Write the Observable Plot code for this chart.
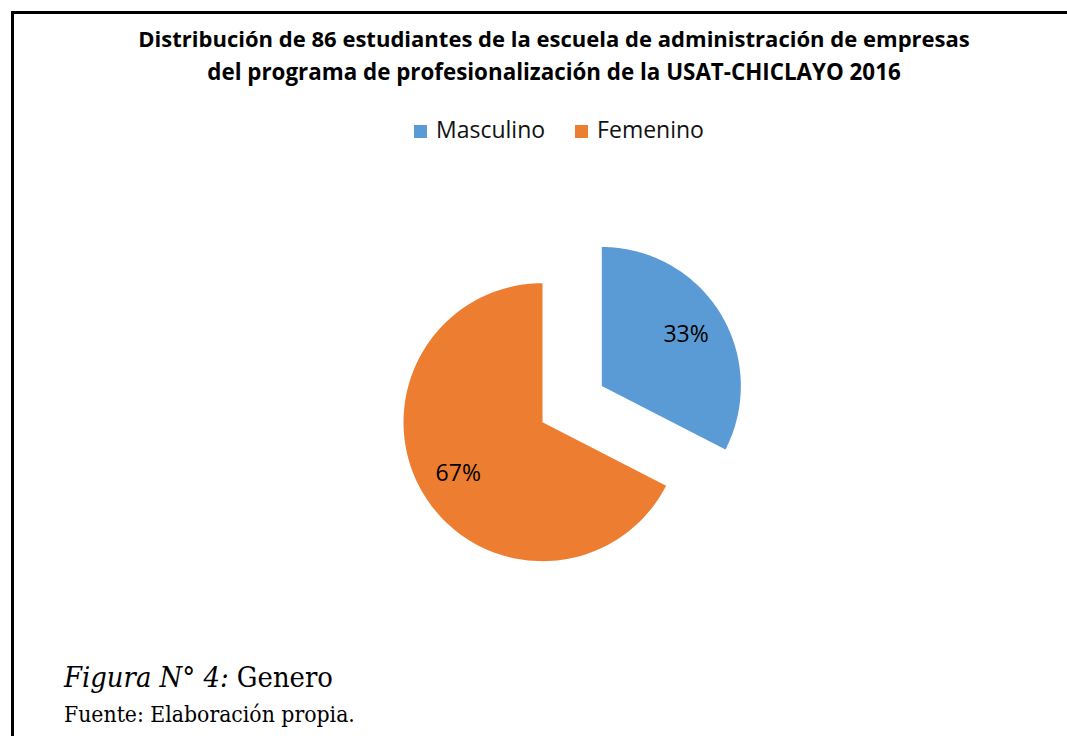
<!DOCTYPE html>
<html>
<head>
<meta charset="utf-8">
<script src="https://cdn.jsdelivr.net/npm/d3@7"></script>
<script src="https://cdn.jsdelivr.net/npm/@observablehq/plot@0.6"></script>
<style>
  html, body { margin: 0; padding: 0; background: #fff; }
  body { width: 1067px; height: 736px; position: relative; overflow: hidden; }
  #frame { position: absolute; left: 11px; top: 11px; width: 1200px; height: 800px; border: 3px solid #000; box-sizing: border-box; }
  #chart { position: absolute; left: 0; top: 0; }
  .t { position: absolute; white-space: nowrap; line-height: 1; }
  #title1, #title2 { font-family: "Open Sans", sans-serif; font-weight: 700; color: #000; }
  #legend { position: absolute; left: 414px; top: 114px; font-family: "Open Sans", sans-serif; font-size: 23px; color: #111; white-space: nowrap; line-height: 30px; }
  #legend span.sw { display: inline-block; width: 13px; height: 13px; vertical-align: 0px; }
  #legend span.lab { margin-left: 9px; margin-right: 30px; }
  #cap1, #cap2 { font-family: "DejaVu Serif", serif; font-stretch: condensed; color: #000; }
</style>
</head>
<body>
<div id="frame"></div>
<div id="chart"></div>
<div class="t" id="title1"></div>
<div class="t" id="title2"></div>
<div id="legend"></div>
<div class="t" id="cap1"></div>
<div class="t" id="cap2"></div>
<script>
const tituloLineas = [
  "Distribución de 86 estudiantes de la escuela de administración de empresas",
  "del programa de profesionalización de la USAT-CHICLAYO 2016"
];
const genero = ["Masculino", "Femenino"];
const estudiantes = [28, 58];
const colores = ["#5B9BD5", "#ED7D31"];
const figuraEtiqueta = "Figura N° 4:";
const figuraNombre = "Genero";
const fuente = "Fuente: Elaboración propia.";

const W = 1067, H = 736;
const R = 139;              // pie radius in px
const cx = 542, cy = 421.7; // pie centre in px
const total = d3.sum(estudiantes);

// pie angles (clockwise from 12 o'clock)
const arcs = d3.pie().sort(null)(estudiantes);
const slices = arcs.map((a, i) => {
  const mid = (a.startAngle + a.endAngle) / 2;
  const off = i === 0 ? 0.5 : 0; // exploded first slice
  const ox = off * Math.sin(mid), oy = off * Math.cos(mid);
  const pts = [{x: ox, y: oy}];
  const n = 120;
  for (let k = 0; k <= n; k++) {
    const t = a.startAngle + (a.endAngle - a.startAngle) * k / n;
    pts.push({x: ox + Math.sin(t), y: oy + Math.cos(t)});
  }
  pts.push({x: ox, y: oy});
  const lr = 0.71;
  return {
    name: genero[i],
    color: colores[i],
    pts,
    label: {x: ox + lr * Math.sin(mid), y: oy + lr * Math.cos(mid),
            text: Math.round(100 * estudiantes[i] / total) + "%"}
  };
});

const plot = Plot.plot({
  width: W, height: H,
  margin: 0,
  x: {domain: [-cx / R, (W - cx) / R], axis: null},
  y: {domain: [-(H - cy) / R, cy / R], axis: null},
  marks: [
    ...slices.map(s => Plot.line(s.pts, {x: "x", y: "y", fill: s.color, stroke: "none", curve: "linear"})),
    Plot.text(slices.map(s => s.label), {x: "x", y: "y", text: "text", fontSize: 23, fontFamily: "Open Sans", fill: "#000", textAnchor: "middle", dy: 0})
  ],
  style: {background: "transparent", overflow: "visible"}
});
document.getElementById("chart").append(plot);

// texts
const t1 = document.getElementById("title1"), t2 = document.getElementById("title2");
t1.textContent = tituloLineas[0];
t2.textContent = tituloLineas[1];
const cap1 = document.getElementById("cap1");
cap1.innerHTML = "<i>" + figuraEtiqueta + "</i> " + figuraNombre;
const cap2 = document.getElementById("cap2");
cap2.textContent = fuente;

const lg = document.getElementById("legend");
genero.forEach((g, i) => {
  const sw = document.createElement("span"); sw.className = "sw"; sw.style.background = colores[i];
  const lb = document.createElement("span"); lb.className = "lab"; lb.textContent = g;
  lg.append(sw, lb);
});

// fit widths to the reference and place baselines
function place(el, left, baseline, targetW, size0, center) {
  el.style.fontSize = size0 + "px";
  const w0 = el.getBoundingClientRect().width;
  const size = size0 * targetW / w0;
  el.style.fontSize = size + "px";
  const w = el.getBoundingClientRect().width;
  const probe = document.createElement("span");
  probe.style.display = "inline-block"; probe.style.width = "1px"; probe.style.height = "0px";
  el.appendChild(probe);
  el.style.top = "0px";
  el.style.left = (center ? (left - w / 2) : left) + "px";
  const b = probe.getBoundingClientRect().bottom - el.getBoundingClientRect().top;
  probe.remove();
  el.style.top = (baseline - b) + "px";
}
place(t1, 554, 47, 832, 21, true);
place(t2, 554, 80, 694, 21, true);
place(cap1, 64, 687, 269, 24, false);
place(cap2, 64, 722, 291, 18, false);
</script>
</body>
</html>
